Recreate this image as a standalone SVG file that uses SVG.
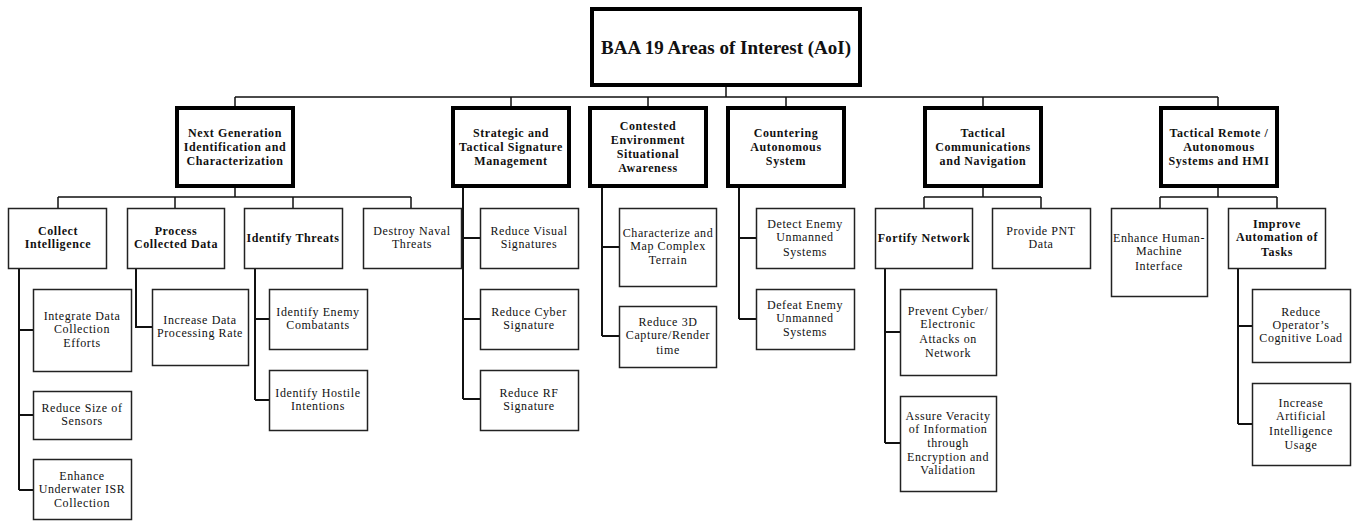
<svg xmlns="http://www.w3.org/2000/svg" width="1353" height="521" viewBox="0 0 1353 521">
<style>
.thick{fill:#fff;stroke:#000;stroke-width:4}
.box{fill:#fff;stroke:#222;stroke-width:1.5}
.c{fill:none;stroke:#111;stroke-width:1.5}
.t{fill:none;stroke:#111;stroke-width:2}
text{font-family:"Liberation Serif","Times New Roman",serif;font-size:12px;fill:#111;text-anchor:middle;letter-spacing:0.6px}
.b{font-weight:bold}
.title{font-size:19px;font-weight:bold;letter-spacing:0}
</style>
<rect width="1353" height="521" fill="#fff"/>
<g id="connectors">
<path class="c" d="M726 87V97M235 97H1218M235 97V106M511 97V106M648 97V106M786 97V106M983 97V106M1218 97V106"/>
<path class="c" d="M235 188V197M58 197H411M58 197V208M175 197V208M293 197V208M411 197V208"/>
<path class="c" d="M983 188V197M924 197H1041M924 197V208M1041 197V208"/>
<path class="c" d="M1218 188V197M1160 197H1277M1160 197V208M1277 197V208"/>
<path class="t" d="M463 188V399M463 238H480M463 319H480M463 399H480"/>
<path class="t" d="M602 188V336M602 247H619M602 336H619"/>
<path class="t" d="M739 188V319M739 238H756M739 319H756"/>
<path class="t" d="M19 269V490M19 330H33M19 415H33M19 490H33"/>
<path class="t" d="M136 269V327H152"/>
<path class="t" d="M255 269V400M255 319H269M255 400H269"/>
<path class="t" d="M885 269V443M885 332H900M885 443H900"/>
<path class="t" d="M1238 269V424M1238 326H1252M1238 424H1252"/>
</g>
<g id="root"><rect class="thick" x="592" y="9" width="268" height="76"/><text class="title" x="726" y="54">BAA 19 Areas of Interest (AoI)</text></g>
<g id="ng"><rect class="thick" x="177" y="108" width="116" height="78"/><text class="b" x="235" y="137">Next Generation</text><text class="b" x="235" y="151">Identification and</text><text class="b" x="235" y="165">Characterization</text></g>
<g id="stm"><rect class="thick" x="453" y="108" width="116" height="78"/><text class="b" x="511" y="137">Strategic and</text><text class="b" x="511" y="151">Tactical Signature</text><text class="b" x="511" y="165">Management</text></g>
<g id="cesa"><rect class="thick" x="590" y="108" width="116" height="78"/><text class="b" x="648" y="130">Contested</text><text class="b" x="648" y="144">Environment</text><text class="b" x="648" y="158">Situational</text><text class="b" x="648" y="172">Awareness</text></g>
<g id="cas"><rect class="thick" x="728" y="108" width="116" height="78"/><text class="b" x="786" y="137">Countering</text><text class="b" x="786" y="151">Autonomous</text><text class="b" x="786" y="165">System</text></g>
<g id="tcn"><rect class="thick" x="925" y="108" width="116" height="78"/><text class="b" x="983" y="137">Tactical</text><text class="b" x="983" y="151">Communications</text><text class="b" x="983" y="165">and Navigation</text></g>
<g id="tra"><rect class="thick" x="1161" y="108" width="116" height="78"/><text class="b" x="1219" y="137">Tactical Remote /</text><text class="b" x="1219" y="151">Autonomous</text><text class="b" x="1219" y="165">Systems and HMI</text></g>

<g id="ci"><rect class="box" x="8.5" y="208.5" width="98" height="60"/><text class="b" x="58" y="235">Collect</text><text class="b" x="58" y="248">Intelligence</text></g>
<g id="pcd"><rect class="box" x="127.5" y="208.5" width="97" height="60"/><text class="b" x="176" y="235">Process</text><text class="b" x="176" y="248">Collected Data</text></g>
<g id="it"><rect class="box" x="244.5" y="208.5" width="98" height="60"/><text class="b" x="293" y="242">Identify Threats</text></g>
<g id="dnt"><rect class="box" x="363.5" y="208.5" width="98" height="60"/><text x="412" y="235">Destroy Naval</text><text x="412" y="248">Threats</text></g>
<g id="rvs"><rect class="box" x="480.5" y="208.5" width="98" height="60"/><text x="529" y="235">Reduce Visual</text><text x="529" y="248">Signatures</text></g>
<g id="cmct"><rect class="box" x="619.5" y="208.5" width="97" height="78"/><text x="668" y="237">Characterize and</text><text x="668" y="250">Map Complex</text><text x="668" y="264">Terrain</text></g>
<g id="deus"><rect class="box" x="756.5" y="208.5" width="98" height="60"/><text x="805" y="228">Detect Enemy</text><text x="805" y="241">Unmanned</text><text x="805" y="256">Systems</text></g>
<g id="fn"><rect class="box" x="875.5" y="208.5" width="97" height="60"/><text class="b" x="924" y="242">Fortify Network</text></g>
<g id="pnt"><rect class="box" x="992.5" y="208.5" width="98" height="60"/><text x="1041" y="235">Provide PNT</text><text x="1041" y="248">Data</text></g>
<g id="ehmi"><rect class="box" x="1111.5" y="208.5" width="96" height="88"/><text x="1159" y="242">Enhance Human-</text><text x="1159" y="255">Machine</text><text x="1159" y="270">Interface</text></g>
<g id="iat"><rect class="box" x="1228.5" y="208.5" width="97" height="60"/><text class="b" x="1277" y="228">Improve</text><text class="b" x="1277" y="241">Automation of</text><text class="b" x="1277" y="256">Tasks</text></g>

<g id="idce"><rect class="box" x="33.5" y="289.5" width="98" height="82"/><text x="82" y="320">Integrate Data</text><text x="82" y="333">Collection</text><text x="82" y="347">Efforts</text></g>
<g id="rss"><rect class="box" x="33.5" y="391.5" width="98" height="48"/><text x="82" y="412">Reduce Size of</text><text x="82" y="425">Sensors</text></g>
<g id="euisr"><rect class="box" x="33.5" y="459.5" width="98" height="60"/><text x="82" y="480">Enhance</text><text x="82" y="493">Underwater ISR</text><text x="82" y="507">Collection</text></g>
<g id="idpr"><rect class="box" x="152.5" y="289.5" width="96" height="76"/><text x="200" y="324">Increase Data</text><text x="200" y="337">Processing Rate</text></g>
<g id="iec"><rect class="box" x="269.5" y="289.5" width="98" height="60"/><text x="318" y="316">Identify Enemy</text><text x="318" y="329">Combatants</text></g>
<g id="ihi"><rect class="box" x="269.5" y="370.5" width="98" height="60"/><text x="318" y="397">Identify Hostile</text><text x="318" y="410">Intentions</text></g>
<g id="rcs"><rect class="box" x="480.5" y="289.5" width="98" height="60"/><text x="529" y="316">Reduce Cyber</text><text x="529" y="329">Signature</text></g>
<g id="rrf"><rect class="box" x="480.5" y="370.5" width="98" height="60"/><text x="529" y="397">Reduce RF</text><text x="529" y="410">Signature</text></g>
<g id="r3d"><rect class="box" x="619.5" y="306.5" width="97" height="61"/><text x="668" y="326">Reduce 3D</text><text x="668" y="339">Capture/Render</text><text x="668" y="354">time</text></g>
<g id="dfeus"><rect class="box" x="756.5" y="289.5" width="98" height="60"/><text x="805" y="309">Defeat Enemy</text><text x="805" y="322">Unmanned</text><text x="805" y="336">Systems</text></g>
<g id="pce"><rect class="box" x="900.5" y="289.5" width="96" height="86"/><text x="948" y="315">Prevent Cyber/</text><text x="948" y="328">Electronic</text><text x="948" y="343">Attacks on</text><text x="948" y="357">Network</text></g>
<g id="avi"><rect class="box" x="900.5" y="396.5" width="96" height="95"/><text x="948" y="420">Assure Veracity</text><text x="948" y="433">of Information</text><text x="948" y="447">through</text><text x="948" y="461">Encryption and</text><text x="948" y="474">Validation</text></g>
<g id="rocl"><rect class="box" x="1252.5" y="289.5" width="98" height="73"/><text x="1301" y="316">Reduce</text><text x="1301" y="329">Operator’s</text><text x="1301" y="342">Cognitive Load</text></g>
<g id="iaiu"><rect class="box" x="1252.5" y="383.5" width="98" height="82"/><text x="1301" y="407">Increase</text><text x="1301" y="420">Artificial</text><text x="1301" y="435">Intelligence</text><text x="1301" y="449">Usage</text></g>
</svg>
